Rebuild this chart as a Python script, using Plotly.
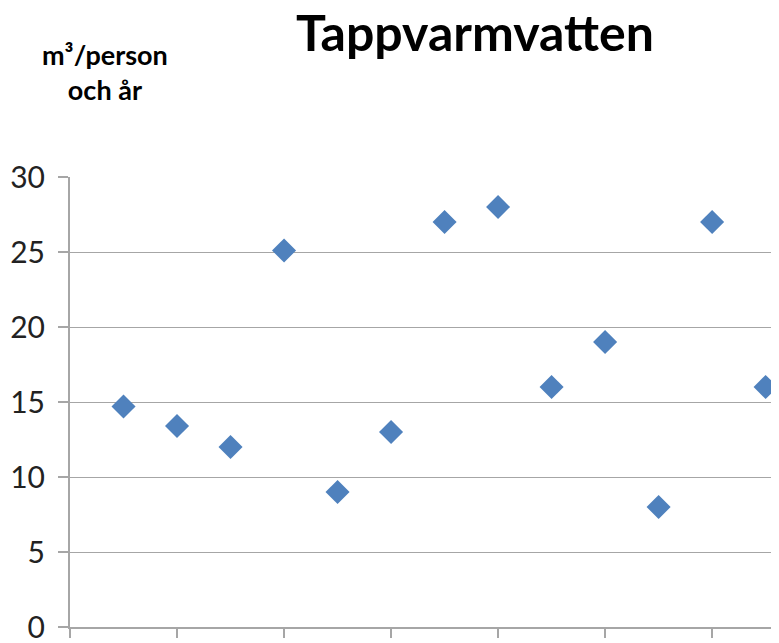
import plotly.graph_objects as go

x_vals = [1, 2, 3, 4, 5, 6, 7, 8, 9, 10, 11, 12, 13]
y_vals = [14.7, 13.4, 12.0, 25.1, 9.0, 13.0, 27.0, 28.0, 16.0, 19.0, 8.0, 27.0, 16.0]
y_ticks = [0, 5, 10, 15, 20, 25, 30]

FONT = "Lato"
GRID = "#A6A6A6"

# page body has an 8px margin; figure is placed at (8, 8)
L, T, W, H = 62, 169, 709, 450
FIG_W, FIG_H = 771, 635

fig = go.Figure()
fig.add_trace(go.Scatter(
    x=x_vals, y=y_vals, mode="markers",
    marker=dict(symbol="diamond", size=18.5, color="#4F81BD",
                line=dict(width=0)),
    hoverinfo="x+y", showlegend=False, cliponaxis=False,
))

fig.update_layout(
    width=FIG_W, height=FIG_H,
    margin=dict(l=L, r=0, t=T, b=FIG_H - T - H),
    paper_bgcolor="white", plot_bgcolor="white",
    font=dict(family=FONT, color="#000000"),
    title=dict(text="<b>Tappvarmvatten</b>", xref="container", yref="container",
               x=467 / FIG_W, y=1 - 25 / FIG_H, xanchor="center", yanchor="middle",
               font=dict(family=FONT, size=50, color="#000000")),
    xaxis=dict(range=[0, 13.25], showgrid=False, zeroline=False,
               showline=True, linecolor=GRID, linewidth=2,
               ticks="outside", ticklen=9, tickcolor=GRID, tickwidth=2,
               tick0=0, dtick=2, showticklabels=False),
    yaxis=dict(range=[0, 30], tickvals=y_ticks, showgrid=True,
               gridcolor=GRID, gridwidth=1.3, zeroline=False,
               showline=True, linecolor=GRID, linewidth=2,
               ticks="outside", ticklen=10, tickcolor=GRID, tickwidth=2,
               tickfont=dict(family=FONT, size=30, color="#222222"),
               ticklabelstandoff=7, ticklabeloverflow="allow"),
    annotations=[
        dict(text="<b>m³/person</b><br><b>och år</b>", xref="paper", yref="paper",
             x=(97 - L) / W, y=1 + (T - 64) / H, xanchor="center",
             yanchor="middle", showarrow=False, align="center",
             font=dict(family=FONT, size=27, color="#000000")),
    ],
)

fig.write_html("out.html")
